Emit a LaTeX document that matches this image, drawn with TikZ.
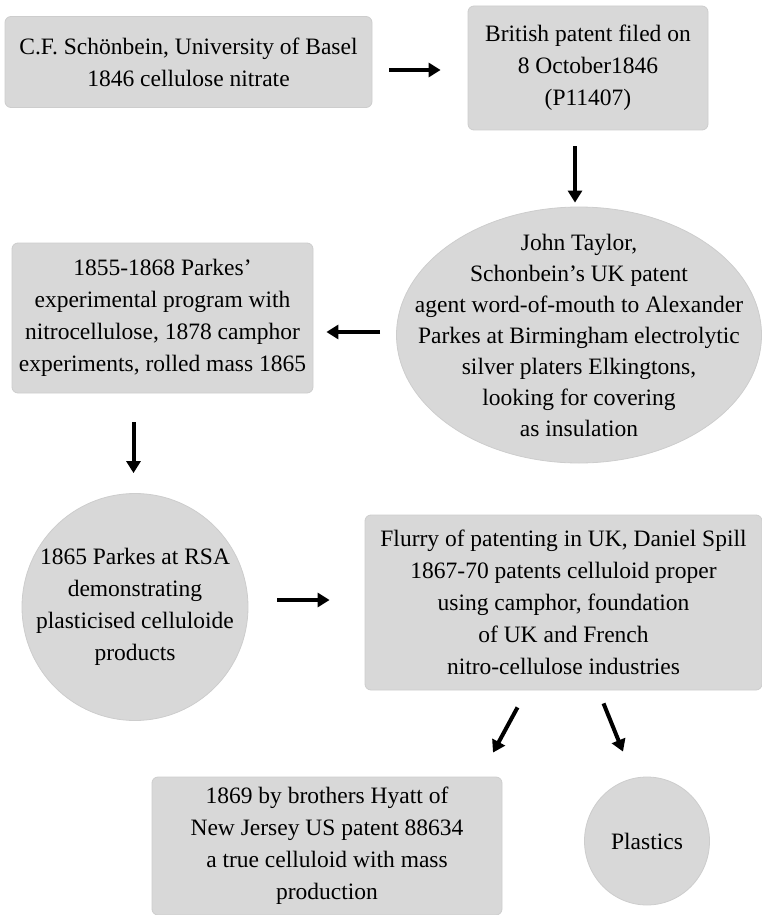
\documentclass[tikz,border=0pt]{standalone}
\usepackage{fontspec}
\setmainfont{Liberation Serif}
\usetikzlibrary{shapes.geometric,arrows.meta}
\definecolor{boxgray}{RGB}{216,216,216}
\definecolor{rimgray}{RGB}{205,205,205}

\begin{document}
\begin{tikzpicture}[x=1pt,y=-1pt]
        \tikzstyle{box}=[rectangle, rounded corners=6pt, fill=boxgray, draw=rimgray, line width=0.8pt, align=center, inner sep=0pt, font=\fontsize{23.5}{32}\selectfont]
        \tikzstyle{blob}=[ellipse, fill=boxgray, draw=rimgray, line width=0.8pt, align=center, inner sep=0pt, font=\fontsize{23.5}{32}\selectfont]
        \tikzstyle{arr}=[line width=4pt, -{Triangle[length=12pt,width=14pt]}]

        \useasboundingbox (0,0) rectangle (762,915);

        \node[box, minimum width=367pt, minimum height=91pt] (schoen) at (188.5,62)
            {C.F. Schönbein, University of Basel\\1846 cellulose nitrate};
        \node[box, minimum width=240pt, minimum height=124pt] (patent) at (588,68)
            {British patent filed on\\8 October1846\\(P11407)};
        \node[blob, minimum width=365pt, minimum height=256pt, inner xsep=-37pt, inner ysep=-16pt,
              font=\fontsize{23.5}{31}\selectfont] (taylor) at (579,335)
            {John Taylor,\\Schonbein’s UK patent\\agent word-of-mouth to Alexander\\Parkes at Birmingham electrolytic\\silver platers Elkingtons,\\looking for covering\\as insulation};
        \node[box, minimum width=301pt, minimum height=150pt] (parkes) at (162.5,318)
            {1855-1868 Parkes’\\experimental program with\\nitrocellulose, 1878 camphor\\experiments, rolled mass 1865};
        \node[blob, minimum width=226pt, minimum height=227pt, inner xsep=-19pt] (rsa) at (135,607)
            {1865 Parkes at RSA\\demonstrating\\plasticised celluloide\\products};
        \node[box, minimum width=397pt, minimum height=175pt] (flurry) at (563.5,602.5)
            {Flurry of patenting in UK, Daniel Spill\\1867-70 patents celluloid proper\\using camphor, foundation\\of UK and French\\nitro-cellulose industries};
        \node[box, minimum width=350pt, minimum height=138pt] (hyatt) at (327,846)
            {1869 by brothers Hyatt of\\New Jersey US patent 88634\\a true celluloid with mass\\production};
        \node[blob, minimum width=125pt, minimum height=128pt] (plastics) at (647,841)
            {Plastics};

        % arrows
        \draw[arr, shorten <=17pt, shorten >=27pt] ([yshift=-8pt]schoen.east) -- ([yshift=-8pt]schoen.east -| patent.west);
        \draw[arr, shorten <=16pt, shorten >=4pt] ([xshift=-13pt]patent.south) -- ([xshift=-13pt]patent.south |- taylor.north);
        \draw[arr, shorten <=16pt, shorten >=13pt] ([yshift=3pt]taylor.west) -- ([yshift=3pt]taylor.west -| parkes.east);
        \draw[arr, shorten <=29pt, shorten >=20pt] ([xshift=-29pt]parkes.south) -- ([xshift=-29pt]parkes.south |- rsa.north);
        \draw[arr, shorten <=29pt, shorten >=35pt] ([yshift=7pt]rsa.east) -- ([yshift=7pt]rsa.east -| flurry.west);
        \draw[arr] ([xshift=-46pt,yshift=-17pt]flurry.south) -- ([xshift=166pt,yshift=24pt]hyatt.north);
        \draw[arr] ([xshift=40pt,yshift=-13pt]flurry.south) -- ([xshift=-24pt,yshift=25pt]plastics.north);
    \end{tikzpicture}
\end{document}
